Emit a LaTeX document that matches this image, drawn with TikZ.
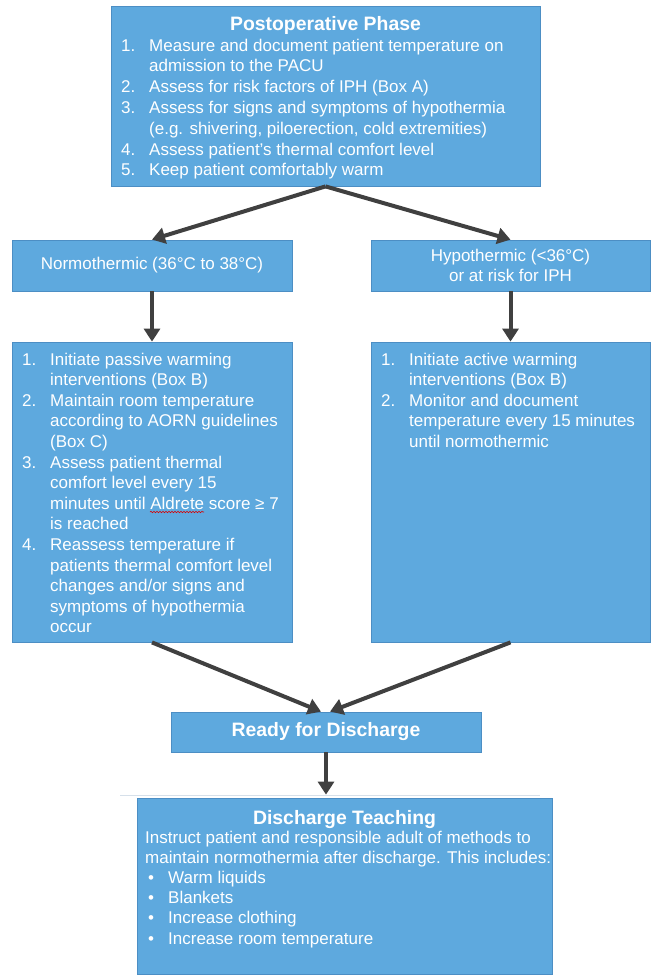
\documentclass[tikz,border=0pt]{standalone}
\usepackage{fontspec}
\setmainfont{Liberation Sans}
\usetikzlibrary{arrows.meta,decorations.pathmorphing}
\definecolor{boxblue}{RGB}{94,169,222}
\definecolor{boxline}{RGB}{76,142,196}
\definecolor{arrowgray}{RGB}{64,64,64}
\definecolor{faintline}{RGB}{214,224,234}
\newcommand{\nitem}[2]{\hangindent=28pt\hangafter=1\noindent\makebox[28pt][l]{#1}#2\par}
\newcommand{\bitem}[1]{\hangindent=23pt\hangafter=1\noindent\makebox[23pt][l]{\hspace{3pt}•}#1\par}
\begin{document}
\begin{tikzpicture}[x=1pt,y=-1pt,
  box/.style={draw=boxline, fill=boxblue, line width=0.8pt, inner sep=0pt,
    text=white, font=\fontsize{17}{20}\selectfont, align=center},
  txt/.style={inner sep=0pt, anchor=base west, text=white},
  ttl/.style={inner sep=0pt, anchor=base, text=white, font=\bfseries\fontsize{19.4}{22}\selectfont},
  arr/.style={draw=arrowgray, line width=4pt, -{Triangle[width=16pt,length=13pt]}}]
\useasboundingbox[fill=white] (0,0) rectangle (653,977);

% boxes
\node[box, minimum width=429pt, minimum height=180pt] (post) at (325.5,96) {};
\node[box, minimum width=280pt, minimum height=51pt] (normo) at (152,265.5) {Normothermic (36°C to 38°C)};
\node[box, minimum width=279pt, minimum height=51pt] (hypo) at (510.5,265.5) {Hypothermic (<36°C)\\or at risk for IPH};
\node[box, minimum width=280pt, minimum height=300pt] (left) at (152,492) {};
\node[box, minimum width=279pt, minimum height=300pt] (right) at (510.5,492) {};
\node[box, minimum width=310pt, minimum height=40pt, font=\bfseries\fontsize{19.4}{22}\selectfont] (ready) at (326,732) {Ready for Discharge};
\node[box, minimum width=415pt, minimum height=176pt] (teach) at (344.5,886) {};

% texts
\node[ttl] (posttitle) at (325.5,30) {Postoperative Phase};
\node[txt] (postlist) at (121,51) {\parbox[t]{420pt}{\fontsize{17}{20.8}\selectfont
\nitem{1.}{Measure and document patient temperature on\\admission to the PACU}
\nitem{2.}{Assess for risk factors of IPH (Box A)}
\nitem{3.}{Assess for signs and symptoms of hypothermia\\(e.g. shivering, piloerection, cold extremities)}
\nitem{4.}{Assess patient’s thermal comfort level}
\nitem{5.}{Keep patient comfortably warm}}};

\node[txt] (leftlist) at (22,365) {\parbox[t]{300pt}{\fontsize{17}{20.6}\selectfont
\nitem{1.}{Initiate passive warming\\interventions (Box B)}
\nitem{2.}{Maintain room temperature\\according to AORN guidelines\\(Box C)}
\nitem{3.}{Assess patient thermal\\comfort level every 15\\minutes until Aldrete score ≥ 7\\is reached}
\nitem{4.}{Reassess temperature if\\patients thermal comfort level\\changes and/or signs and\\symptoms of hypothermia\\occur}}};

\node[txt] (rightlist) at (381,365) {\parbox[t]{300pt}{\fontsize{17}{20.6}\selectfont
\nitem{1.}{Initiate active warming\\interventions (Box B)}
\nitem{2.}{Monitor and document\\temperature every 15 minutes\\until normothermic}}};

\node[ttl] (teachtitle) at (344.5,824) {Discharge Teaching};
\node[txt] (teachbody) at (145,843) {\parbox[t]{420pt}{\fontsize{17}{20.2}\selectfont
\noindent Instruct patient and responsible adult of methods to\\maintain normothermia after discharge. This includes:\par
\bitem{Warm liquids}
\bitem{Blankets}
\bitem{Increase clothing}
\bitem{Increase room temperature}}};

% spell-check underline
\draw[red!85!black, line width=0.6pt, decorate, decoration={snake, amplitude=0.7pt, segment length=3pt}] (150,512) -- (204,512);

% faint line above the last box
\draw[faintline, line width=0.7pt] (120,795) -- (540,795);

% connectors
\draw[arr] (post.south) -- (normo.north);
\draw[arr] (post.south) -- (hypo.north);
\draw[arr] (normo.south) -- (left.north);
\draw[arr] (hypo.south) -- (right.north);
\draw[arr] (left.south) -- ([xshift=-5pt]ready.north);
\draw[arr] (right.south) -- ([xshift=4pt]ready.north);
\draw[arr, shorten >=3pt] (ready.south) -- (ready.south |- teach.north);
\end{tikzpicture}
\end{document}
